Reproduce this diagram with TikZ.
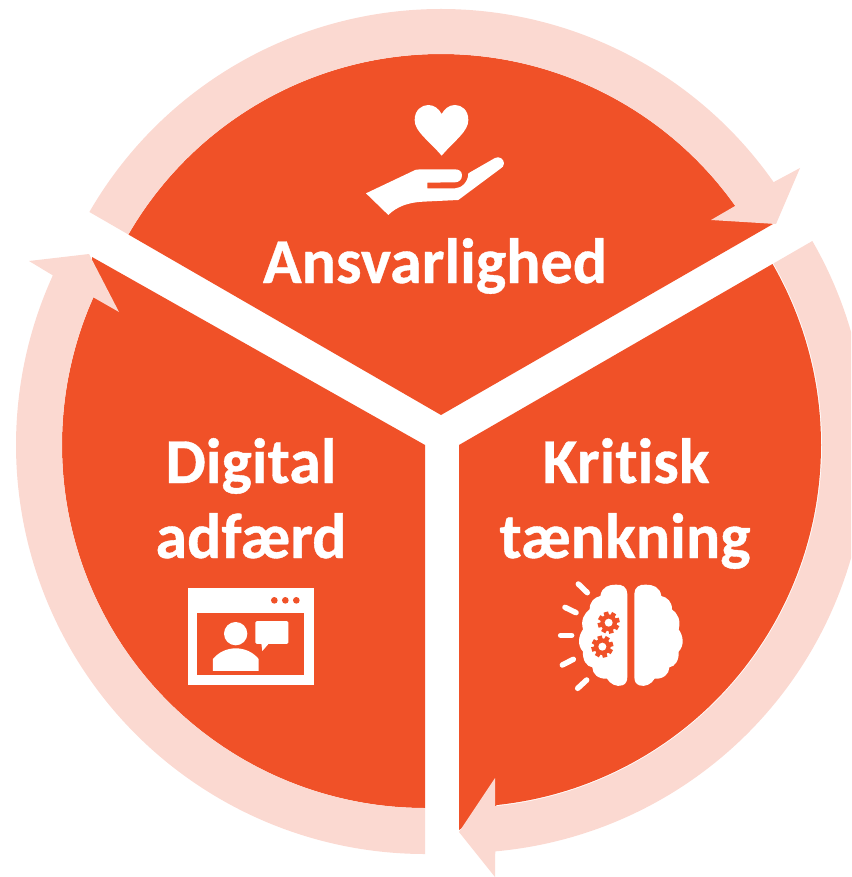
\documentclass[tikz,border=0pt]{standalone}
\usepackage{fontspec}
\setmainfont[Ligatures=NoCommon,BoldFeatures={FakeBold=0.6}]{Carlito}
\usetikzlibrary{calc}
\definecolor{sectorc}{HTML}{F05128}
\definecolor{ringc}{HTML}{FBD9D1}
\tikzset{
  label text/.style={text=white,font=\bfseries\fontsize{64}{66}\selectfont,anchor=base,inner sep=0pt},
  ring/.style={fill=ringc},
  sector/.style={fill=sectorc},
  ray/.style={draw=white,line width=5.5pt,line cap=round},
  zoomA/.style={shift={(340,-90)},x=0.3333pt,y=-0.3333pt},
  zoomB/.style={shift={(170,-575)},x=0.3333pt,y=-0.3333pt},
  zoomC/.style={shift={(545,-570)},x=0.3333pt,y=-0.3333pt}
}
\begin{document}
\begin{tikzpicture}[x=1pt,y=1pt]
\useasboundingbox (0,-877) rectangle (851,0);
\clip (0,-877) rectangle (851,0);
\coordinate (A) at (441,-415);
\coordinate (L) at (425,-445);
\coordinate (R) at (459,-445);
% sectors
\fill[sector] (A) -- ($(A)+(150:361)$) arc[start angle=150,end angle=35,radius=361] -- (773,-224) -- cycle;
\fill[sector] (L) -- (92,-257) -- ($(L)+(156:363)$) arc[start angle=156,end angle=270,radius=363] -- cycle;
\fill[sector] (R) -- ($(R)+(30:362)$) arc[start angle=30,end angle=-84,radius=362] -- (459,-830) -- cycle;
% rings with arrowheads
\fill[ring] ($(A)+(150:406)$) arc[start angle=150,end angle=35.0,radius=406] -- (800,-168) -- (776,-224) -- (711,-220) -- ($(A)+(35.4:361)$) arc[start angle=35.4,end angle=150,radius=361] -- cycle;
\fill[ring] ($(L)+(270:409)$) arc[start angle=270,end angle=155.5,radius=409] -- (29,-261) -- (89,-254) -- (119,-312) -- ($(L)+(156:363)$) arc[start angle=156,end angle=270,radius=363] -- cycle;
\fill[ring] ($(R)+(30:408)$) arc[start angle=30,end angle=-84.9,radius=408] -- (495,-877) -- (459,-832) -- (495,-778) -- ($(R)+(-84.3:363)$) arc[start angle=-84.3,end angle=30,radius=363] -- cycle;
% labels
\node[label text] (t1) at (435,-283) {Ansvarlighed};
\node[label text] (t2) at (251,-483) {Digital};
\node[label text] (t3) at (251,-558) {adfærd};
\node[label text] (t4) at (626,-483) {Kritisk};
\node[label text] (t5) at (625,-558) {tænkning};
% heart and hand
\begin{scope}[zoomA]
\fill[white] (305,197) .. controls (265,150) and (224,125) .. (224,90) .. controls (224,60) and (245,45) .. (265,45) .. controls (283,45) and (297,57) .. (305,72) .. controls (313,57) and (327,45) .. (345,45) .. controls (365,45) and (385,60) .. (385,90) .. controls (385,125) and (345,150) .. (305,197) -- cycle;
\fill[white] (78,310) -- (215,245) .. controls (222,240) and (230,238) .. (240,238) -- (345,238) .. controls (358,238) and (366,245) .. (366,256) .. controls (366,268) and (358,277) .. (345,277) -- (262,278) -- (262,295) -- (345,295) .. controls (365,295) and (385,275) .. (385,250) -- (465,204) .. controls (478,197) and (492,208) .. (492,220) .. controls (492,228) and (487,233) .. (480,237) -- (355,330) -- (250,335) .. controls (205,337) and (170,350) .. (145,375) -- cycle;
\end{scope}
% window icon
\begin{scope}[zoomB]
\fill[white] (53,38) rectangle (431,330);
\fill[sectorc] (81,113) rectangle (402,301);
\foreach \cx in {313,346,379} \fill[sectorc] (\cx,76) circle[radius=10];
\fill[white] (197,176) circle[radius=35];
\fill[white] (129,288) -- (129,252) .. controls (145,232) and (170,220) .. (197,220) .. controls (225,220) and (250,232) .. (266,252) -- (266,288) -- cycle;
\fill[white,rounded corners=1.5pt] (256,138) rectangle (355,207);
\fill[white] (274,205) -- (277,228) -- (297,205) -- cycle;
\end{scope}
% brain icon
\begin{scope}[zoomC]
\fill[white] (247,72) .. controls (247,52) and (232,42) .. (212,44) .. controls (192,44) and (170,50) .. (166,78) .. controls (148,82) and (134,95) .. (134,118) .. controls (118,130) and (106,150) .. (114,178) .. controls (100,198) and (96,225) .. (114,245) .. controls (112,270) and (125,290) .. (142,292) .. controls (142,312) and (160,328) .. (186,326) .. controls (195,342) and (215,352) .. (232,346) .. controls (242,342) and (247,335) .. (247,320) -- cycle;
\fill[white] (268,72) .. controls (268,52) and (283,42) .. (303,44) .. controls (323,44) and (345,50) .. (349,78) .. controls (367,82) and (381,95) .. (381,118) .. controls (397,130) and (409,150) .. (401,178) .. controls (415,198) and (419,225) .. (401,245) .. controls (403,270) and (390,290) .. (373,292) .. controls (373,312) and (355,328) .. (329,326) .. controls (320,342) and (300,352) .. (283,346) .. controls (273,342) and (268,335) .. (268,320) -- cycle;
\foreach \gx/\gy in {191/158,172/230}{
  \fill[sectorc] (\gx,\gy) circle[radius=25];
  \foreach \ga in {0,45,...,315}
    \fill[sectorc,shift={(\gx,\gy)},rotate=\ga+15] (20,-7) rectangle (33,7);
  \fill[white] (\gx,\gy) circle[radius=12];
}
\draw[ray] (100,42) -- (127,68);
\draw[ray] (60,112) -- (93,128);
\draw[ray] (47,196) -- (80,196);
\draw[ray] (52,285) -- (85,268);
\draw[ray] (98,355) -- (125,330);
\end{scope}
\end{tikzpicture}
\end{document}
